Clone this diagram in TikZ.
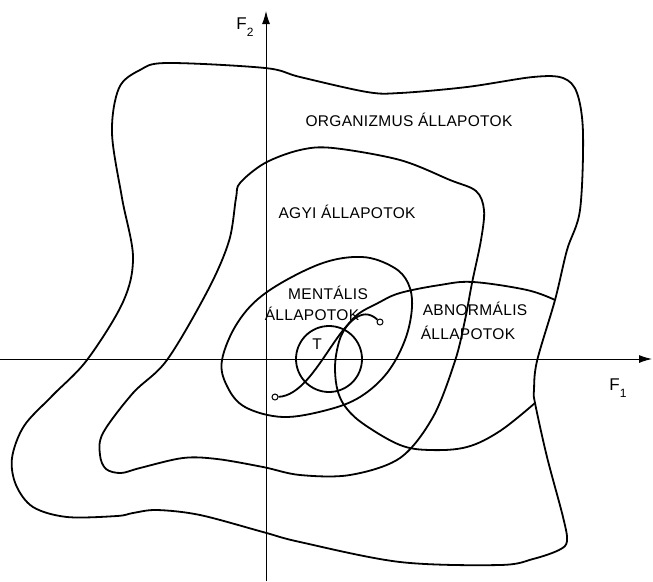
\documentclass[tikz,border=0pt]{standalone}
\usepackage{fontspec}
\setmainfont{Liberation Sans}
\usepackage{tikz}
\usetikzlibrary{positioning}
\usetikzlibrary{calc}
\usetikzlibrary{arrows.meta}

\begin{document}
\begin{tikzpicture}[x=1pt,y=-1pt,
    region/.style={line width=1.8pt,line join=round},
    axis/.style={line width=1pt,-{Latex[length=13pt,width=8pt]}},
    lbl/.style={inner sep=0pt,font=\fontsize{15.5}{17}\selectfont\addfontfeatures{LetterSpace=2}},
    fl/.style={inner sep=0pt,font=\fontsize{17}{18}\selectfont},
    endpt/.style={circle,draw,line width=1pt,fill=white,inner sep=0pt,minimum size=6pt}]
\useasboundingbox (0,0) rectangle (653,581);

% axes
\coordinate (xa) at (0,359);
\coordinate (xb) at (652,359);
\coordinate (ya) at (266,581);
\coordinate (yb) at (266,11);
\draw[axis] (xa) -- (xb);
\draw[axis] (ya) -- (yb);
\node[fl] (f1) at (618,388) {F\raisebox{-7pt}{\fontsize{12}{12}\selectfont 1}};
\node[fl] (f2) at (245,27) {F\raisebox{-7pt}{\fontsize{12}{12}\selectfont 2}};

% where the abnormal region meets the outer boundary
\coordinate (m1) at (555,300);
\coordinate (m2) at (535,403);

% organism states
\draw[region] plot[smooth cycle,tension=0.55] coordinates {
    (167,63) (265,68) (300,77) (367,92) (400,93) (467,87) (533,77) (563,78)
    (577,93) (583,133) (580,210) (567,250) (m1) (537,361) (534,390) (m2)
    (547,457) (563,517) (567,541) (559,550) (533,559) (500,565) (400,562)
    (300,542) (263,532) (200,515) (157,510) (133,513) (117,516) (67,517)
    (33,507) (16,485) (12,458) (24,426) (52,396) (87,360) (123,302)
    (133,257) (122,198) (112,133) (119,88) (140,70)};

% brain states
\draw[region] plot[smooth cycle,tension=0.55] coordinates {
    (240,183) (265,163) (300,150) (333,148) (400,160) (450,180) (476,191)
    (484,210) (481,240) (472,283) (465,320) (455,361) (433,417)
    (400,458) (350,475) (300,475) (263,467) (217,459) (183,458) (140,468)
    (121,473) (106,469) (100,455) (103,433) (133,393) (167,360) (208,290)
    (229,241) (236,198)};

% mental states
\draw[region] plot[smooth cycle,tension=0.6] coordinates {
    (222,360) (227,386) (245,407) (283,417) (327,410) (360,397) (387,373)
    (405,340) (412,307) (408,283) (393,267) (362,257) (320,264) (267,292)
    (238,322)};

% abnormal states
\draw[region] plot[smooth,tension=0.6] coordinates {
    (m1) (527,290) (473,282) (440,285) (400,293) (378,303) (357,315)
    (343,332) (337,350) (335,370) (338,392) (347,409) (365,425) (400,445)
    (430,450) (467,447) (500,431) (m2)};

% T
\node[circle,draw,line width=1.8pt,minimum size=66pt,inner sep=0pt] (T) at (329,359) {};
\node[lbl] (tl) at (317,344) {T};

\node[endpt] (ts) at (275,397) {};
\node[endpt] (te) at (380,322) {};
\draw[region] (ts) .. controls (320,395) and (345,290) .. (te);

\node[lbl] (org) at (409,120) {ORGANIZMUS ÁLLAPOTOK};
\node[lbl] (agy) at (347,212) {AGYI ÁLLAPOTOK};
\node[lbl] (me1) at (328,293) {MENTÁLIS};
\node[lbl] (me2) at (312,314) {ÁLLAPOTOK};
\node[lbl] (ab1) at (475,309) {ABNORMÁLIS};
\node[lbl] (ab2) at (468,333) {ÁLLAPOTOK};
\end{tikzpicture}
\end{document}
